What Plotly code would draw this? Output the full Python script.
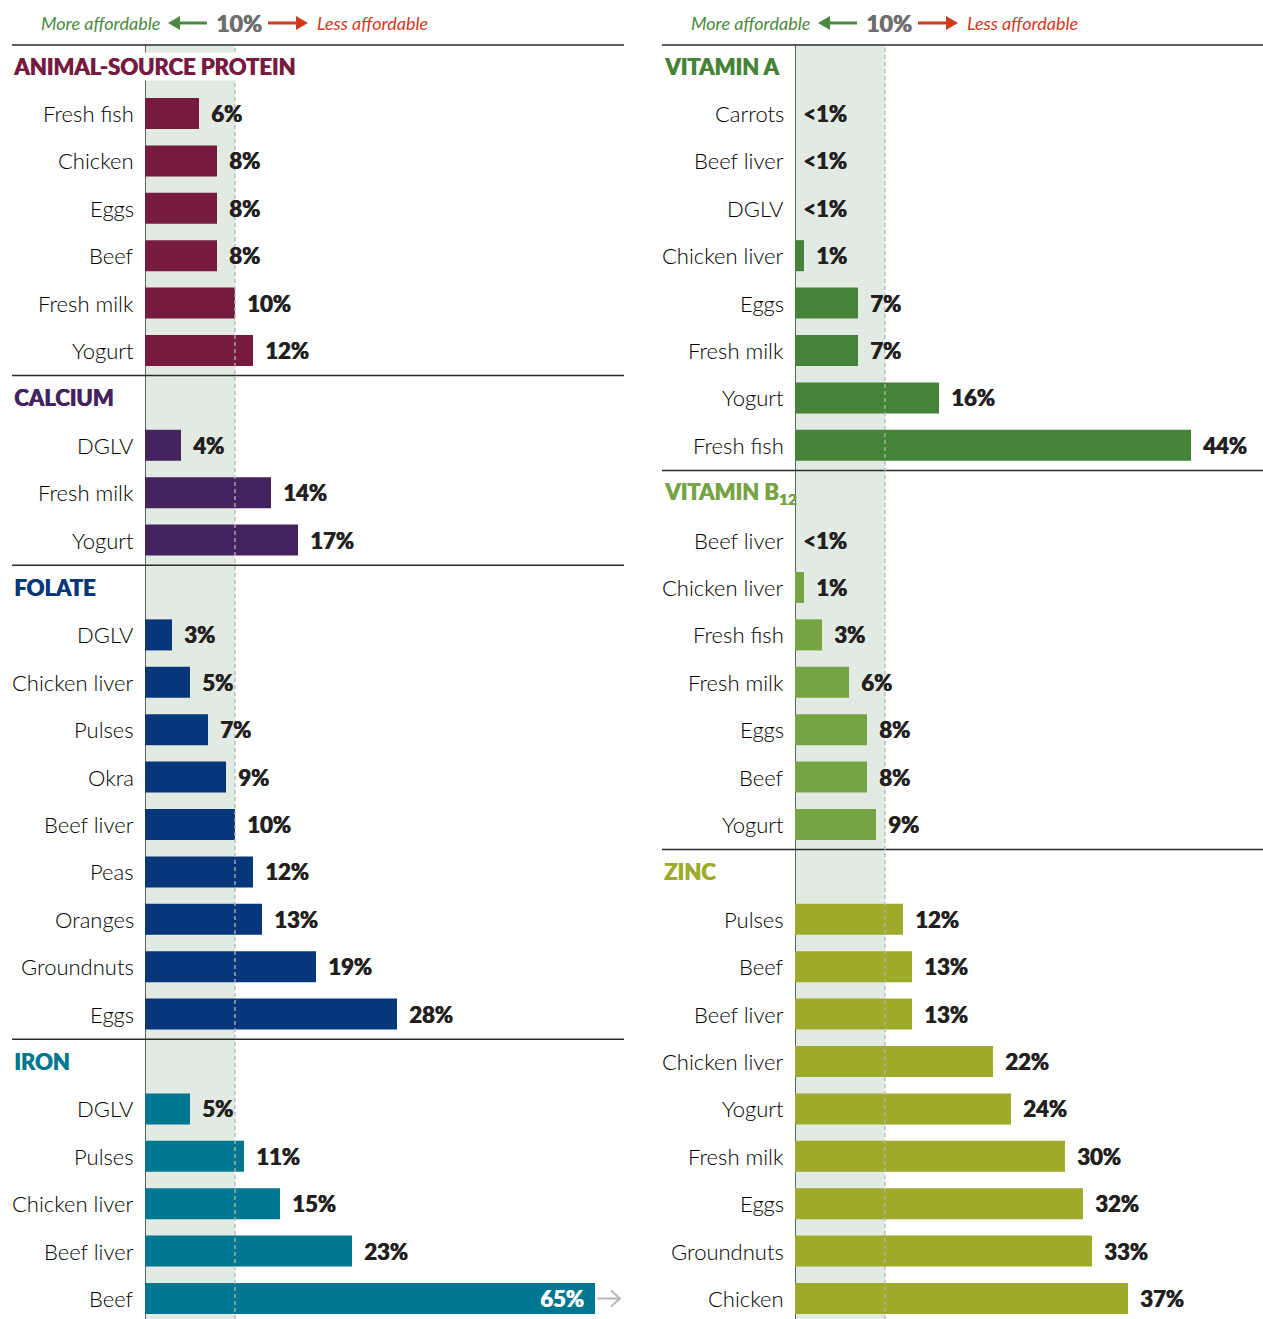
import plotly.graph_objects as go

W, H = 1263, 1319

# ---- data: share of daily food budget needed (%) ----
protein_foods = ["Fresh fish", "Chicken", "Eggs", "Beef", "Fresh milk", "Yogurt"]
protein_vals = [6, 8, 8, 8, 10, 12]

calcium_foods = ["DGLV", "Fresh milk", "Yogurt"]
calcium_vals = [4, 14, 17]

folate_foods = ["DGLV", "Chicken liver", "Pulses", "Okra", "Beef liver", "Peas",
                "Oranges", "Groundnuts", "Eggs"]
folate_vals = [3, 5, 7, 9, 10, 12, 13, 19, 28]

iron_foods = ["DGLV", "Pulses", "Chicken liver", "Beef liver", "Beef"]
iron_vals = [5, 11, 15, 23, 65]

vita_a_foods = ["Carrots", "Beef liver", "DGLV", "Chicken liver", "Eggs",
                "Fresh milk", "Yogurt", "Fresh fish"]
vita_a_vals = [0, 0, 0, 1, 7, 7, 16, 44]          # 0 = "<1%"

b12_foods = ["Beef liver", "Chicken liver", "Fresh fish", "Fresh milk", "Eggs",
             "Beef", "Yogurt"]
b12_vals = [0, 1, 3, 6, 8, 8, 9]

zinc_foods = ["Pulses", "Beef", "Beef liver", "Chicken liver", "Yogurt",
              "Fresh milk", "Eggs", "Groundnuts", "Chicken"]
zinc_vals = [12, 13, 13, 22, 24, 30, 32, 33, 37]

threshold = 10   # affordability reference line (%)

left_sections = [
    ("ANIMAL-SOURCE PROTEIN", "#761a40", protein_foods, protein_vals),
    ("CALCIUM", "#45235f", calcium_foods, calcium_vals),
    ("FOLATE", "#07367a", folate_foods, folate_vals),
    ("IRON", "#007790", iron_foods, iron_vals),
]
right_sections = [
    ("VITAMIN A", "#458438", vita_a_foods, vita_a_vals),
    ("VITAMIN B<sub>12</sub>", "#76a443", b12_foods, b12_vals),
    ("ZINC", "#9eaa29", zinc_foods, zinc_vals),
]

# ---- geometry (pixels) ----
ROW0 = 66.1
ROWH = 47.4
TOP_LINE = 45
panels = {
    "left": dict(xa="x", ya="y", x0=145, x1=595, xmax=50, rule0=12, rule1=624),
    "right": dict(xa="x2", ya="y2", x0=795, x1=1263, xmax=52, rule0=662, rule1=1263),
}

def px(x):
    return x / W

def py(y):
    return 1 - y / H

def row_px(r):
    return ROW0 + r * ROWH

def heavy(size, color):
    # bold face, thickened slightly with a hairline offset shadow
    return dict(family="Lato, sans-serif", size=size, color=color, weight=900,
                shadow=f"0.7px 0 0 {color}")

LABEL_FONT = dict(family="'Lato Light', Lato, sans-serif", size=22, color="#000000", weight=300)
VALUE_COLOR = "#231f20"
TITLE_FONT_SIZE = 22

fig = go.Figure()
annotations = []
shapes = []

def build_panel(sections, p):
    xa, ya = p["xa"], p["ya"]
    xref, yref = xa, ya
    row = 0
    for si, (title, color, foods, vals) in enumerate(sections):
        # section rule above the title
        if si > 0:
            yline = row_px(row - 0.47)
            shapes.append(dict(type="line", xref="paper", yref="paper",
                               x0=px(p["rule0"]), x1=px(p["rule1"]),
                               y0=py(yline), y1=py(yline),
                               line=dict(color="#2b2b2b", width=1.5), layer="above"))
        title_ann = dict(
            text=title, xref="paper", yref=yref, x=px(p["rule0"]), y=row,
            xanchor="left", yanchor="middle", showarrow=False,
            font=heavy(TITLE_FONT_SIZE, color))
        if si == 0 and xa == "x":
            title_ann.update(bgcolor="white", borderpad=0)
        annotations.append(title_ann)
        rows = [row + 1 + i for i in range(len(foods))]
        fig.add_trace(go.Bar(
            x=vals, y=rows, orientation="h", width=0.655,
            marker=dict(color=color, line=dict(width=0)),
            xaxis=xa, yaxis=ya, showlegend=False, hoverinfo="skip"))
        for r, f, v in zip(rows, foods, vals):
            annotations.append(dict(
                text=f, xref=xref, yref=yref, x=0, y=r, xanchor="right",
                yanchor="middle", xshift=-9, showarrow=False, font=LABEL_FONT))
            label = "<1%" if v < 1 else f"{v}%"
            if v > p["xmax"]:
                annotations.append(dict(
                    text=label, xref=xref, yref=yref, x=p["xmax"], y=r,
                    xanchor="right", yanchor="middle", xshift=-9, showarrow=False,
                    font=heavy(22, "#ffffff")))
                # continuation arrow for the clipped bar
                yc = row_px(r)
                xe = p["x1"]
                shapes.append(dict(type="path", xref="paper", yref="paper",
                                   path=(f"M{px(xe + 2)},{py(yc)} L{px(xe + 25)},{py(yc)} "
                                         f"M{px(xe + 16)},{py(yc - 8)} L{px(xe + 25)},{py(yc)} "
                                         f"L{px(xe + 16)},{py(yc + 8)}"),
                                   line=dict(color="#b9b9b9", width=2)))
            else:
                annotations.append(dict(
                    text=label, xref=xref, yref=yref, x=v, y=r,
                    xanchor="left", yanchor="middle", xshift=6 if v < 1 else 10,
                    showarrow=False, font=heavy(22, VALUE_COLOR)))
        row = rows[-1] + 1

    # top rule
    shapes.append(dict(type="line", xref="paper", yref="paper",
                       x0=px(p["rule0"]), x1=px(p["rule1"]),
                       y0=py(TOP_LINE), y1=py(TOP_LINE),
                       line=dict(color="#2b2b2b", width=1.5)))
    # affordable band 0..threshold
    shapes.append(dict(type="rect", xref=xref, yref="paper", x0=0, x1=threshold,
                       y0=0, y1=py(TOP_LINE), fillcolor="#e2ebe3",
                       line=dict(width=0), layer="below"))
    # zero axis line
    shapes.append(dict(type="line", xref=xref, yref="paper", x0=0, x1=0,
                       y0=0, y1=py(TOP_LINE), line=dict(color="#1a1a1a", width=1.3),
                       layer="below"))
    # threshold dashed line
    shapes.append(dict(type="line", xref=xref, yref="paper", x0=threshold, x1=threshold,
                       y0=0, y1=py(TOP_LINE), line=dict(color="#b5b5b5", width=1.3, dash="4px,3px"),
                       layer="above"))

    # header: More affordable <- 10% -> Less affordable
    c = p["x0"] + threshold * (p["x1"] - p["x0"]) / p["xmax"]
    yh = 23
    annotations.append(dict(text="<i>More affordable</i>", xref="paper", yref="paper",
                            x=px(c - 73), y=py(yh), xanchor="right", yanchor="middle",
                            showarrow=False,
                            font=dict(family="Lato, sans-serif", size=18, color="#4a8a3e")))
    annotations.append(dict(text="10%", xref="paper", yref="paper",
                            x=px(c + 3.5), y=py(yh), xanchor="center", yanchor="middle",
                            showarrow=False, font=heavy(23, "#6e6e70")))
    annotations.append(dict(text="<i>Less affordable</i>", xref="paper", yref="paper",
                            x=px(c + 80), y=py(yh), xanchor="left", yanchor="middle",
                            showarrow=False,
                            font=dict(family="Lato, sans-serif", size=18, color="#d23a1e")))
    # green arrow (pointing left)
    shapes.append(dict(type="line", xref="paper", yref="paper",
                       x0=px(c - 28), x1=px(c - 58), y0=py(yh), y1=py(yh),
                       line=dict(color="#4a8a3e", width=3)))
    shapes.append(dict(type="path", xref="paper", yref="paper",
                       path=f"M{px(c - 67)},{py(yh)} L{px(c - 55)},{py(yh - 7)} L{px(c - 55)},{py(yh + 7)} Z",
                       fillcolor="#4a8a3e", line=dict(width=0)))
    # red arrow (pointing right)
    shapes.append(dict(type="line", xref="paper", yref="paper",
                       x0=px(c + 33), x1=px(c + 63), y0=py(yh), y1=py(yh),
                       line=dict(color="#d23a1e", width=3)))
    shapes.append(dict(type="path", xref="paper", yref="paper",
                       path=f"M{px(c + 73)},{py(yh)} L{px(c + 61)},{py(yh - 7)} L{px(c + 61)},{py(yh + 7)} Z",
                       fillcolor="#d23a1e", line=dict(width=0)))


build_panel(left_sections, panels["left"])
build_panel(right_sections, panels["right"])

yrange = [(H - ROW0) / ROWH, -ROW0 / ROWH]
axis_off = dict(showgrid=False, zeroline=False, showticklabels=False, ticks="",
                showline=False, fixedrange=True)

fig.update_layout(
    width=W, height=H,
    margin=dict(l=0, r=0, t=0, b=0),
    paper_bgcolor="white", plot_bgcolor="rgba(0,0,0,0)",
    barmode="overlay",
    xaxis=dict(domain=[px(145), px(595)], range=[0, 50], anchor="y", **axis_off),
    yaxis=dict(domain=[0, 1], range=yrange, anchor="x", **axis_off),
    xaxis2=dict(domain=[px(795), px(1263)], range=[0, 52], anchor="y2", **axis_off),
    yaxis2=dict(domain=[0, 1], range=yrange, anchor="x2", **axis_off),
    annotations=annotations,
    shapes=shapes,
)

fig.write_html("out.html")
